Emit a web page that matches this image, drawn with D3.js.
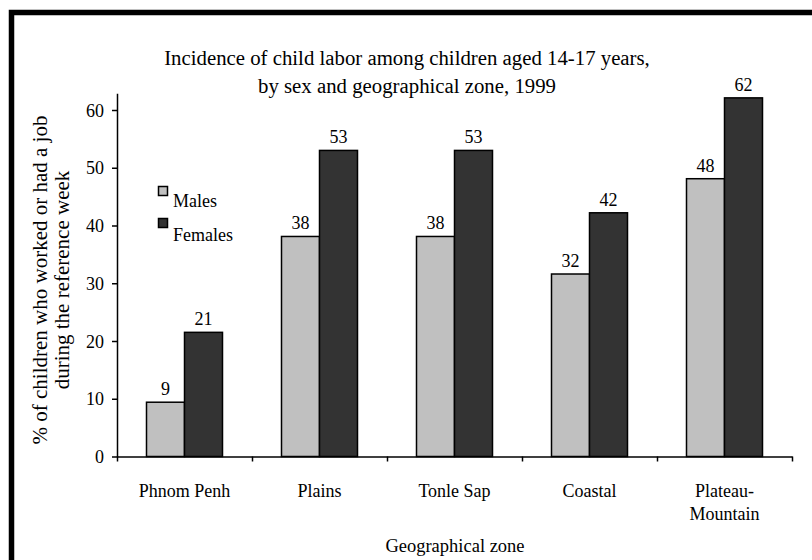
<!DOCTYPE html>
<html>
<head>
<meta charset="utf-8">
<script src="https://cdn.jsdelivr.net/npm/d3@7"></script>
<style>
  html, body { margin: 0; padding: 0; background: #fff; }
  svg { display: block; }
  text { font-family: "Liberation Serif", "Times New Roman", serif; fill: #000; }
</style>
</head>
<body>
<script>
const categories = ["Phnom Penh", "Plains", "Tonle Sap", "Coastal", "Plateau-Mountain"];
const categoryLines = [["Phnom Penh"], ["Plains"], ["Tonle Sap"], ["Coastal"], ["Plateau-", "Mountain"]];
const seriesNames = ["Males", "Females"];
const males = [9.4, 38.1, 38.1, 31.6, 48.1];
const females = [21.5, 53.0, 53.0, 42.2, 62.1];
const maleLabels = ["9", "38", "38", "32", "48"];
const femaleLabels = ["21", "53", "53", "42", "62"];
const yTicks = [0, 10, 20, 30, 40, 50, 60];
const titleLines = ["Incidence of child labor among children aged 14-17 years,", "by sex and geographical zone, 1999"];
const yTitleLines = ["% of children who worked or had a job", "during the reference week"];
const xTitle = "Geographical zone";

const colors = { Males: "#c0c0c0", Females: "#333333" };

const W = 812, H = 560;
const svg = d3.select("body").append("svg").attr("width", W).attr("height", H);

// frame border (top & left visible)
svg.append("path")
  .attr("d", `M11.5,${H} L11.5,12.5 L${W},12.5`)
  .attr("fill", "none").attr("stroke", "#000").attr("stroke-width", 5.5);

const x0 = 117, x1 = 792, yBase = 456.5;
const y = d3.scaleLinear().domain([0, 60]).range([yBase, 110]);
const yTop = y(62.9);

const xBand = d3.scaleBand().domain(categories).range([x0, x1])
  .paddingInner(0.437).paddingOuter(0.2185);
const xSub = d3.scaleBand().domain(seriesNames).range([0, xBand.bandwidth()]);
const xCells = d3.scaleLinear().domain([0, categories.length]).range([x0, x1]);

const data = categories.map((c, i) => ({
  cat: c,
  values: [
    { s: "Males", v: males[i], label: maleLabels[i] },
    { s: "Females", v: females[i], label: femaleLabels[i] }
  ]
}));

// bars
const g = svg.append("g");
const groups = g.selectAll("g.cat").data(data).join("g")
  .attr("transform", d => `translate(${xBand(d.cat)},0)`);
groups.selectAll("rect").data(d => d.values).join("rect")
  .attr("x", d => xSub(d.s))
  .attr("y", d => y(d.v))
  .attr("width", xSub.bandwidth())
  .attr("height", d => yBase - y(d.v))
  .attr("fill", d => colors[d.s])
  .attr("stroke", "#000").attr("stroke-width", 1.5);
groups.selectAll("text.val").data(d => d.values).join("text")
  .attr("class", "val")
  .attr("x", d => xSub(d.s) + xSub.bandwidth() / 2)
  .attr("y", d => y(d.v) - 7)
  .attr("text-anchor", "middle")
  .attr("font-size", 18)
  .text(d => d.label);

// y axis
const yAxisScale = d3.scaleLinear().domain([0, 62.9]).range([yBase, yTop]);
const yAxis = svg.append("g").attr("transform", `translate(${x0},0)`)
  .call(d3.axisLeft(yAxisScale).tickValues(yTicks).tickSize(5).tickPadding(8).tickSizeOuter(0));
yAxis.select(".domain").attr("stroke-width", 1.5);
yAxis.selectAll(".tick line").attr("stroke-width", 1.5);
yAxis.selectAll(".tick text").attr("font-size", 18).attr("dy", "0.34em")
  .attr("font-family", "Liberation Serif, Times New Roman, serif").attr("fill", "#000");

// x axis
const xAxis = svg.append("g").attr("transform", `translate(0,${yBase})`)
  .call(d3.axisBottom(xCells).tickValues(d3.range(categories.length + 1)).tickSize(5).tickFormat("").tickSizeOuter(0));
xAxis.select(".domain").attr("stroke-width", 1.5);
xAxis.selectAll(".tick line").attr("stroke-width", 1.5);

// category labels
svg.append("g").selectAll("text").data(categories).join("text")
  .attr("x", d => xBand(d) + xBand.bandwidth() / 2)
  .attr("y", 497)
  .attr("text-anchor", "middle")
  .attr("font-size", 18)
  .each(function(d, i) {
    const t = d3.select(this);
    categoryLines[i].forEach((ln, j) => {
      t.append("tspan").attr("x", xBand(d) + xBand.bandwidth() / 2)
        .attr("dy", j === 0 ? 0 : 23).text(ln);
    });
  });

// title
svg.append("text").attr("x", 407).attr("y", 65).attr("text-anchor", "middle")
  .attr("font-size", 20.8)
  .selectAll("tspan").data(titleLines).join("tspan")
  .attr("x", 407).attr("dy", (d, i) => i === 0 ? 0 : 28).text(d => d);

// y title
svg.append("text").attr("transform", "translate(47,280) rotate(-90)")
  .attr("text-anchor", "middle").attr("font-size", 21)
  .selectAll("tspan").data(yTitleLines).join("tspan")
  .attr("x", 0).attr("dy", (d, i) => i === 0 ? 0 : 22).text(d => d);

// x title
svg.append("text").attr("x", 455).attr("y", 552).attr("text-anchor", "middle")
  .attr("font-size", 18.5).text(xTitle);

// legend
const leg = svg.append("g");
seriesNames.forEach((s, i) => {
  leg.append("rect").attr("x", 158.5).attr("y", 186.5 + i * 32).attr("width", 9).attr("height", 9)
    .attr("fill", colors[s]).attr("stroke", "#000").attr("stroke-width", 1.5);
  leg.append("text").attr("x", 173).attr("y", 207 + i * 34).attr("font-size", 18).text(s);
});
</script>
</body>
</html>
